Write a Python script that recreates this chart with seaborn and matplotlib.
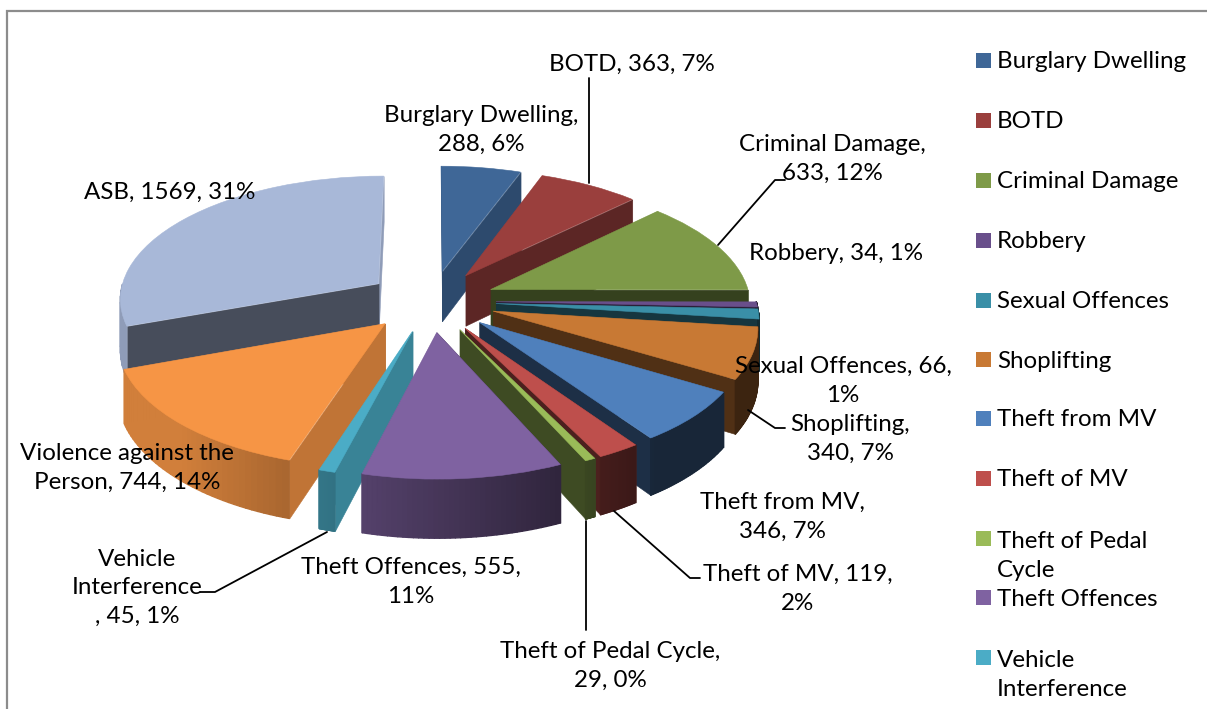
import numpy as np
import matplotlib
matplotlib.use("Agg")
import matplotlib.pyplot as plt
import matplotlib.transforms as mtransforms
from matplotlib.collections import PolyCollection
from matplotlib.patches import Rectangle
import seaborn as sns

categories = ["Burglary Dwelling", "BOTD", "Criminal Damage", "Robbery", "Sexual Offences",
              "Shoplifting", "Theft from MV", "Theft of MV", "Theft of Pedal Cycle",
              "Theft Offences", "Vehicle Interference", "Violence against the Person", "ASB"]
values = [288, 363, 633, 34, 66, 340, 346, 119, 29, 555, 45, 744, 1569]
percents = [6, 7, 12, 1, 1, 7, 7, 2, 0, 11, 1, 14, 31]
colors = ["#3F6797", "#9A3F3D", "#7E9A48", "#694F8B", "#3A8FA7", "#C87934", "#4F80BC",
          "#BE4F4C", "#9ABB58", "#7F62A1", "#4BACC6", "#F69545", "#A8B8D8"]
# brightness of the far and near straight walls of each slice
far_wall = [0.72, 0.60, 0.42, 0.40, 0.38, 0.40, 0.37, 0.40, 0.40, 0.45, 0.76, 0.78, 0.85]
near_wall = [0.72, 0.60, 0.42, 0.40, 0.38, 0.40, 0.37, 0.40, 0.40, 0.45, 0.76, 0.78, 0.42]

label_text = ["Burglary Dwelling,\n288, 6%", "BOTD, 363, 7%", "Criminal Damage,\n633, 12%",
              "Robbery, 34, 1%", "Sexual Offences, 66,\n1%", "Shoplifting,\n340, 7%",
              "Theft from MV,\n346, 7%", "Theft of MV, 119,\n2%", "Theft of Pedal Cycle,\n29, 0%",
              "Theft Offences, 555,\n11%", "Vehicle\nInterference\n, 45, 1%",
              "Violence against the\nPerson, 744, 14%", "ASB, 1569, 31%"]
label_xy = [(481, 130), (632, 64), (832, 159), (836, 253), (843, 381), (850, 439), (782, 517),
            (798, 589), (610, 666), (411, 582), (137, 588), (127, 468), (170, 192)]
leaders = [[(785, 180), (775, 180), (718, 245)],
           [(785, 428), (775, 428), (748, 410)], [(700, 578), (690, 578), (614, 511)],
           [(586, 630), (586, 521)], [(200, 592), (215, 592), (327, 532)], [(589, 78), (589, 183)]]
legend_labels = ["Burglary Dwelling", "BOTD", "Criminal Damage", "Robbery", "Sexual Offences",
                 "Shoplifting", "Theft from MV", "Theft of MV", "Theft of Pedal\nCycle",
                 "Theft Offences", "Vehicle\nInterference"]
legend_rows = [60, 120, 180, 240, 300, 359, 418, 478, 538, 597, 657]

sns.set_theme(style="white")
plt.rcParams["font.family"] = ["Lato", "DejaVu Sans"]
palette = sns.color_palette(colors)

FS = 17.4
LS = 1.46
CX, CY, RX, RY, PERSP, DEPTH = 431, 301, 260, 123, 0.11, 51


def project(x, y, h=0.0):
    s = 1.0 / (1.0 + PERSP * np.asarray(y))
    return np.column_stack([CX + RX * np.asarray(x) * s, CY - RY * np.asarray(y) * s + h * s])


class Perspective(mtransforms.Transform):
    input_dims = 2
    output_dims = 2
    is_separable = False
    has_inverse = False

    def transform_non_affine(self, values):
        v = np.asarray(values)
        return project(v[:, 0], v[:, 1])


fig = plt.figure(figsize=(12.07, 7.09), dpi=100)
ax = fig.add_axes([0, 0, 1, 1])
wedges, _ = ax.pie(values, colors=palette, explode=[0.25] * len(values), startangle=90,
                   counterclock=False, radius=1.0)
ax.set_aspect("auto")
ax.set_xlim(0, 1207)
ax.set_ylim(709, 0)
ax.axis("off")

mids = [np.deg2rad((w.theta1 + w.theta2) / 2) for w in wedges]
order = np.argsort([-(w.center[1] + np.sin(m)) for w, m in zip(wedges, mids)])
persp = Perspective() + ax.transData


def darker(c, f):
    return tuple(min(1, v * f) for v in c[:3])


for rank, i in enumerate(order):
    w = wedges[i]
    base = 3 + rank
    cx, cy = w.center
    col = palette[i]
    w.set_transform(persp)
    w.set_zorder(base + 0.5)
    w.set_edgecolor(col)
    w.set_linewidth(0.4)

    # straight side walls, further one first
    t_ends = sorted([w.theta1, w.theta2], key=lambda t: -np.sin(np.deg2rad(t)))
    for j, t in enumerate(t_ends):
        ex, ey = cx + np.cos(np.deg2rad(t)), cy + np.sin(np.deg2rad(t))
        xs, ys = np.array([cx, ex]), np.array([cy, ey])
        top, bot = project(xs, ys), project(xs, ys, DEPTH)
        pts = np.vstack([top, bot[::-1]])
        wc = darker(col, far_wall[i] if j == 0 else near_wall[i])
        ax.add_collection(PolyCollection([pts], facecolors=[wc], edgecolors=[wc],
                                         linewidths=0.4, zorder=base + 0.1 * j))
    # curved outer wall, shaded by facing direction; only the part facing the viewer
    th = np.deg2rad(np.linspace(w.theta1, w.theta2, 40))
    xs, ys = cx + np.cos(th), cy + np.sin(th)
    top, bot = project(xs, ys), project(xs, ys, DEPTH)
    quads, shades = [], []
    for k in range(len(th) - 1):
        mid = (th[k] + th[k + 1]) / 2
        if np.sin(mid) > 0:
            continue
        quads.append([top[k], top[k + 1], bot[k + 1], bot[k]])
        shades.append(darker(col, float(np.clip(0.555 - 0.43 * np.cos(mid), 0.3, 0.85))))
    if quads:
        ax.add_collection(PolyCollection(quads, facecolors=shades, edgecolors=shades,
                                         linewidths=1.0, zorder=base + 0.3))

# chart frame
ax.plot([7, 7, 1207], [709, 11, 11], color="#8C8C8C", lw=1.6, zorder=1, solid_joinstyle="miter")

# leader lines
for pts in leaders:
    px, py = zip(*pts)
    ax.plot(px, py, color="black", lw=1.3, zorder=30)

# data labels
for txt, (x, y) in zip(label_text, label_xy):
    ax.text(x, y, txt, ha="center", va="center", fontsize=FS, linespacing=LS, color="black", zorder=40)

# legend
for name, col, y in zip(legend_labels, palette, legend_rows):
    ax.add_patch(Rectangle((976, y - 7.5), 15, 15, facecolor=col, edgecolor="none", zorder=20))
    off = 16 * name.count("\n")
    ax.text(997, y + off + 2, name, ha="left", va="center", fontsize=FS, linespacing=LS, color="black", zorder=40)

fig.savefig("out.png", dpi=100)
